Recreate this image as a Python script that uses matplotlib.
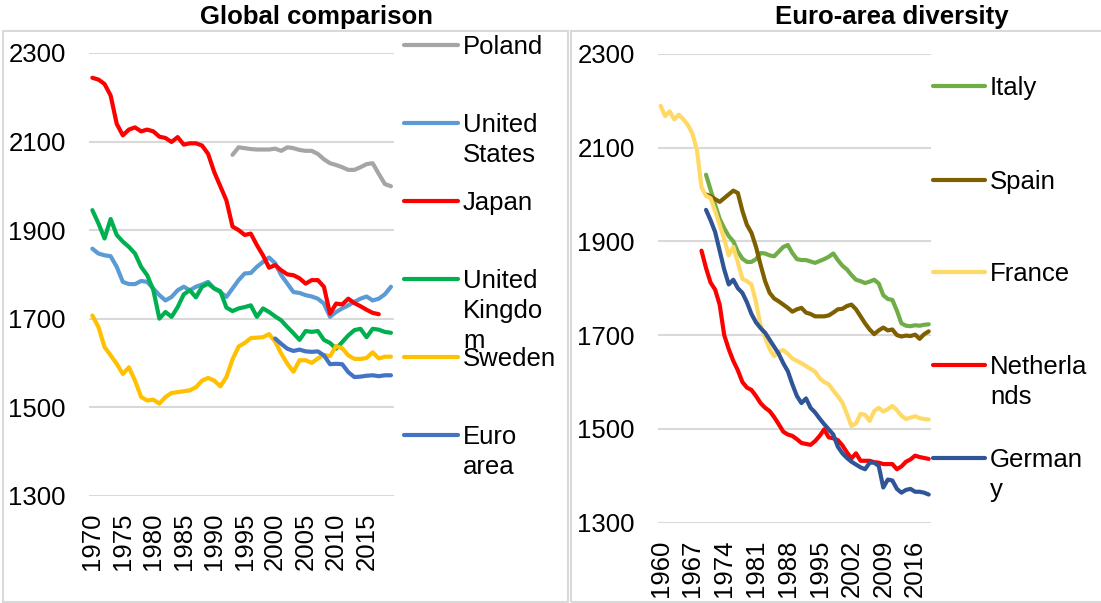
import numpy as np
import matplotlib.pyplot as plt
from matplotlib.lines import Line2D
from matplotlib.patches import Rectangle

plt.rcParams['font.family'] = ['Liberation Sans', 'DejaVu Sans']

# Left chart: annual hours worked, 1970-2019
poland_start = 1993
poland = [2070, 2087, 2085, 2083, 2082, 2082, 2082, 2084, 2079, 2087, 2085, 2081, 2079, 2079,
          2072, 2060, 2051, 2047, 2042, 2036, 2036, 2042, 2049, 2051, 2027, 2004, 1999]
us_start = 1970
us = [1858, 1847, 1843, 1841, 1817, 1783, 1778, 1778, 1785, 1783,
      1768, 1753, 1741, 1749, 1764, 1772, 1764, 1772, 1777, 1783,
      1768, 1760, 1749, 1768, 1787, 1802, 1803, 1817, 1828, 1838,
      1825, 1798, 1779, 1760, 1758, 1753, 1750, 1745, 1734, 1704,
      1715, 1723, 1730, 1738, 1745, 1750, 1741, 1745, 1755, 1772]
japan_start = 1970
japan = [2244, 2240, 2230, 2204, 2140, 2114, 2127, 2132, 2123, 2127,
         2123, 2111, 2108, 2099, 2110, 2093, 2096, 2096, 2091, 2072,
         2031, 1999, 1967, 1908, 1900, 1889, 1892, 1866, 1843, 1815,
         1821, 1809, 1800, 1798, 1791, 1779, 1787, 1787, 1772, 1711,
         1734, 1732, 1745, 1735, 1728, 1720, 1713, 1710]
uk_start = 1970
uk = [1945, 1915, 1881, 1925, 1889, 1874, 1862, 1847, 1817, 1798,
      1765, 1700, 1715, 1704, 1726, 1755, 1764, 1748, 1772, 1779,
      1768, 1762, 1725, 1717, 1723, 1726, 1730, 1704, 1723, 1715,
      1705, 1696, 1681, 1667, 1652, 1672, 1670, 1672, 1652, 1645,
      1632, 1647, 1662, 1674, 1677, 1658, 1677, 1675, 1670, 1668]
sweden_start = 1970
sweden = [1707, 1681, 1636, 1617, 1598, 1575, 1590, 1560, 1523, 1515,
          1517, 1508, 1523, 1532, 1534, 1536, 1538, 1545, 1560, 1566,
          1560, 1547, 1568, 1608, 1637, 1645, 1656, 1657, 1658, 1665,
          1648, 1621, 1598, 1580, 1606, 1606, 1600, 1610, 1618, 1615,
          1638, 1633, 1617, 1609, 1609, 1611, 1624, 1610, 1614, 1614]
euro_start = 2000
euro = [1655, 1643, 1632, 1627, 1630, 1626, 1625, 1626, 1617, 1597,
        1598, 1597, 1579, 1568, 1569, 1571, 1572, 1570, 1572, 1572]

# Right chart: euro-area countries, 1960-2019
italy_start = 1970
italy = [2042, 2010, 1978, 1948, 1928, 1911, 1900, 1878, 1863, 1856,
         1856, 1862, 1875, 1874, 1870, 1868, 1878, 1888, 1892, 1875,
         1862, 1860, 1860, 1857, 1854, 1858, 1862, 1867, 1874, 1860,
         1848, 1840, 1828, 1818, 1815, 1811, 1814, 1818, 1810, 1785,
         1777, 1775, 1752, 1725, 1720, 1719, 1721, 1720, 1722, 1723]
spain_start = 1970
spain = [2000, 1996, 1990, 1984, 1992, 2000, 2008, 2003, 1965, 1935,
         1918, 1888, 1850, 1815, 1790, 1778, 1772, 1765, 1758, 1750,
         1755, 1758, 1748, 1745, 1740, 1740, 1740, 1742, 1748, 1755,
         1756, 1762, 1765, 1755, 1740, 1725, 1712, 1702, 1710, 1716,
         1710, 1712, 1700, 1697, 1699, 1698, 1701, 1692, 1702, 1708]
france_start = 1960
france = [2189, 2167, 2177, 2160, 2170, 2160, 2148, 2130, 2095, 2015,
          1997, 1992, 1965, 1935, 1905, 1870, 1888, 1855, 1820, 1815,
          1808, 1770, 1720, 1695, 1670, 1655, 1665, 1668, 1660, 1650,
          1645, 1640, 1634, 1628, 1622, 1608, 1600, 1595, 1582, 1570,
          1556, 1532, 1506, 1512, 1532, 1530, 1517, 1538, 1545, 1537,
          1542, 1549, 1540, 1528, 1521, 1524, 1527, 1523, 1521, 1520]
netherlands_start = 1969
netherlands = [1880,
               1843, 1812, 1797, 1765, 1700, 1670, 1645, 1625, 1600, 1588,
               1583, 1570, 1555, 1545, 1538, 1525, 1510, 1494, 1488, 1485,
               1478, 1470, 1468, 1466, 1474, 1485, 1499, 1482, 1480, 1476,
               1465, 1450, 1437, 1448, 1432, 1432, 1432, 1429, 1428, 1425,
               1425, 1425, 1414, 1420, 1430, 1435, 1443, 1440, 1438, 1436]
germany_start = 1970
germany = [1967, 1945, 1920, 1880, 1840, 1808, 1818, 1800, 1790, 1770,
           1745, 1727, 1715, 1705, 1690, 1675, 1660, 1640, 1623, 1595,
           1570, 1555, 1565, 1545, 1535, 1522, 1510, 1499, 1488, 1462,
           1448, 1438, 1430, 1424, 1418, 1414, 1428, 1428, 1421, 1375,
           1392, 1390, 1372, 1364, 1370, 1372, 1366, 1366, 1364, 1360]

# legend labels are wrapped the way the original legend box wraps them
left_series = [(["Poland"], poland_start, poland, "#A5A5A5"),
               (["United", "States"], us_start, us, "#5B9BD5"),
               (["Japan"], japan_start, japan, "#FF0000"),
               (["United", "Kingdo", "m"], uk_start, uk, "#00B050"),
               (["Sweden"], sweden_start, sweden, "#FFC000"),
               (["Euro", "area"], euro_start, euro, "#4472C4")]
right_series = [(["Italy"], italy_start, italy, "#70AD47"),
                (["Spain"], spain_start, spain, "#7F6000"),
                (["France"], france_start, france, "#FFD966"),
                (["Netherla", "nds"], netherlands_start, netherlands, "#FF0000"),
                (["German", "y"], germany_start, germany, "#2F5597")]

W, H = 1101, 603
fig = plt.figure(figsize=(W / 100, H / 100), dpi=100)


def fx(x):
    return x / W


def fy(y):
    return 1 - y / H


FS = 18.5
GRID = "#D9D9D9"

# chart area borders
for x0, x1 in [(3, 568), (571, 1104)]:
    fig.add_artist(Rectangle((fx(x0), fy(601.5)), fx(x1) - fx(x0), fy(30.5) - fy(601.5),
                             transform=fig.transFigure, fill=False, edgecolor=GRID, lw=1.5))


def make_axes(x0, x1, ytop, ybot, series, xlim, ticks):
    ax = fig.add_axes([fx(x0), fy(ybot), fx(x1) - fx(x0), fy(ytop) - fy(ybot)])
    ax.set_facecolor("none")
    for label, start, vals, color in series:
        yrs = np.arange(start, start + len(vals))
        ax.plot(yrs, vals, color=color, lw=3.0, solid_capstyle="round", solid_joinstyle="round")
    ax.set_xlim(*xlim)
    ax.set_ylim(1300, 2300)
    ax.set_yticks([1300, 1500, 1700, 1900, 2100, 2300])
    ax.set_xticks(ticks)
    ax.set_xticklabels([str(t) for t in ticks], rotation=90)
    ax.grid(axis="y", color=GRID, lw=1.5)
    ax.set_axisbelow(True)
    for s in ax.spines.values():
        s.set_visible(False)
    ax.tick_params(axis="y", length=0, pad=17, labelsize=FS)
    ax.tick_params(axis="x", length=0, pad=12, labelsize=FS)
    return ax


ax1 = make_axes(89.3, 394, 53, 495.7, left_series, (1969.5, 2019.5), list(range(1970, 2016, 5)))
ax2 = make_axes(658.3, 931, 53.7, 522.7, right_series, (1959.5, 2019.5), list(range(1960, 2017, 7)))

fig.text(fx(316), fy(24), "Global comparison", ha="center", va="baseline",
         fontsize=FS, fontweight="bold")
fig.text(fx(892), fy(24), "Euro-area diversity", ha="center", va="baseline",
         fontsize=FS, fontweight="bold")


def legend(series, x0, x1, xt, ys):
    for (label, start, vals, color), y in zip(series, ys):
        fig.add_artist(Line2D([fx(x0), fx(x1)], [fy(y), fy(y)], transform=fig.transFigure,
                              color=color, lw=3.0, solid_capstyle="round"))
        for k, part in enumerate(label):
            fig.text(fx(xt), fy(y + 9 + 30 * k), part, ha="left", va="baseline", fontsize=FS)


legend(left_series, 404, 458, 463, [45, 123, 201, 279, 357, 435])
legend(right_series, 933, 985, 990, [86, 180, 272, 365, 458])

fig.savefig("out.png", dpi=100)
